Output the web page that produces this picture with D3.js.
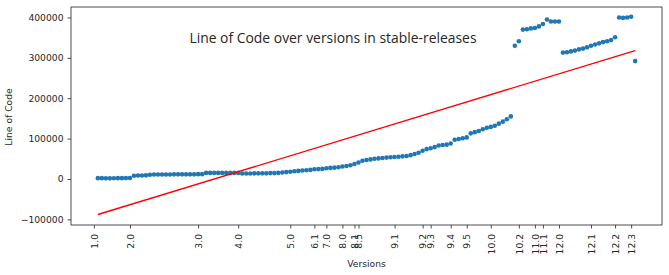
<!DOCTYPE html>
<html>
<head>
<meta charset="utf-8">
<script src="https://cdn.jsdelivr.net/npm/d3@7"></script>
<style>
    body { margin: 0; background: #fff; }
    text { font-family: "DejaVu Sans", sans-serif; fill: #262626; }
</style>
</head>
<body>
<div id="loc_chart"></div>
<script>
// lines of code for every release, in release order (x = release index)
let locValues = [
    2000, 2000, 1500, 1500, 1800, 2000, 2000, 2200, 2500,
    8000, 8500, 8500, 9000,
    10500, 11000, 11000, 11000, 11000, 11000, 11500, 11500, 11500, 11500, 11500, 11500, 12000, 12000,
    15000, 15000, 15000, 15000, 15000, 15000, 15000, 15000, 15000,
    13500, 13500, 13500, 14000, 14000, 14000, 14000, 14500, 14500, 15000, 16000, 17000,
    18000, 19000, 20000, 21000, 21500, 22500,
    24000, 24500, 25000,
    26500, 27500, 28000, 29000,
    31000, 32000, 34000, 37000,
    41000, 45000,
    47000, 48500, 50000, 51000, 52000, 53000, 54000, 54500, 55000, 56000, 57000, 59000, 62000, 65000,
    70000, 74000, 76000, 79000, 83000, 84000, 85000, 88000,
    97000, 99000, 101000, 103000,
    113000, 116000, 119000, 123000, 127000, 129000, 132000, 137000, 142000, 148000, 155000,
    330000, 341000,
    370000, 371000, 373000, 374000, 378000, 384000, 395000,
    390000, 390000, 390000,
    313000, 314000, 316000, 318000, 321000, 323000, 326000, 330000, 333000, 336000, 339000, 341000, 344000, 351000,
    400000, 399000, 400000, 402000,
    292000
]

// version tick labels and the release index they sit on
let tickLabels = ['1.0', '2.0', '3.0', '4.0', '5.0', '6.1', '7.0', '8.0', '8.1', '8.5',
    '9.1', '9.2', '9.3', '9.4', '9.5', '10.0', '10.2', '11.0', '11.1', '12.0', '12.1', '12.2', '12.3']
let tickIndex = [-1, 8, 25, 35, 48, 54, 57, 61, 64, 65,
    74, 81, 83, 88, 92, 98, 105, 109, 111, 115, 123, 129, 133]

// fitted trend line, value at first and last release
let trendValues = [-88000, 318000]

let yTicks = [-100000, 0, 100000, 200000, 300000, 400000]

let width = 669, height = 275
let margin = {top: 7, right: 7, bottom: 50, left: 71}

let svg = d3.select('#loc_chart').append('svg')
    .attr('width', width)
    .attr('height', height)

let n = locValues.length
let pad = (n - 1) * 0.05

let xScale = d3.scaleLinear()
    .domain([-pad, n - 1 + pad])
    .range([margin.left, width - margin.right])
let yScale = d3.scaleLinear()
    .domain([-114000, 426000])
    .range([height - margin.bottom, margin.top])

// axes
let xAxis = d3.axisBottom(xScale)
    .tickValues(tickIndex)
    .tickFormat((d, i) => tickLabels[i])
    .tickSizeOuter(0)
    .tickSize(3.5)
    .tickPadding(3.5)
let yAxis = d3.axisLeft(yScale)
    .tickValues(yTicks)
    .tickFormat(d => d < 0 ? '\u2212' + Math.abs(d) : d)
    .tickSizeOuter(0)
    .tickSize(3.5)
    .tickPadding(4)

let gx = svg.append('g').attr('id', 'x_axis')
    .attr('transform', 'translate(0,' + (height - margin.bottom) + ')')
    .call(xAxis)
gx.select('.domain').remove()
gx.selectAll('.tick line').attr('stroke', '#222').attr('stroke-width', 0.8)
gx.selectAll('.tick text')
    .attr('transform', 'rotate(-90)')
    .attr('x', -9)
    .attr('y', 0)
    .attr('dy', '0.35em')
    .style('text-anchor', 'end')
    .style('font-size', '9.2px')

let gy = svg.append('g').attr('id', 'y_axis')
    .attr('transform', 'translate(' + margin.left + ',0)')
    .call(yAxis)
gy.select('.domain').remove()
gy.selectAll('.tick line').attr('stroke', '#222').attr('stroke-width', 0.8)
gy.selectAll('.tick text').style('font-size', '9.2px')

// axes frame
svg.append('rect')
    .attr('x', margin.left)
    .attr('y', margin.top)
    .attr('width', width - margin.right - margin.left)
    .attr('height', height - margin.bottom - margin.top)
    .attr('fill', 'none')
    .attr('stroke', '#222')
    .attr('stroke-width', 0.8)

// data points
svg.append('g').attr('id', 'loc_points')
    .selectAll('circle')
    .data(locValues)
    .enter().append('circle')
    .attr('cx', (d, i) => xScale(i))
    .attr('cy', d => yScale(d))
    .attr('r', 2.3)
    .attr('fill', '#1f77b4')

// trend line
svg.append('line')
    .attr('x1', xScale(0))
    .attr('y1', yScale(trendValues[0]))
    .attr('x2', xScale(n - 1))
    .attr('y2', yScale(trendValues[1]))
    .attr('stroke', 'red')
    .attr('stroke-width', 1.4)

// labels
svg.append('text')
    .text('Line of Code over versions in stable-releases')
    .attr('x', 333)
    .attr('y', 43)
    .style('text-anchor', 'middle')
    .style('font-family', '"Open Sans", sans-serif')
    .style('font-size', '13.9px')

svg.append('text')
    .text('Versions')
    .attr('x', (margin.left + width - margin.right) / 2)
    .attr('y', 267)
    .style('text-anchor', 'middle')
    .style('font-size', '9.2px')

svg.append('text')
    .text('Line of Code')
    .attr('transform', 'translate(12,' + 117 + ') rotate(-90)')
    .style('text-anchor', 'middle')
    .style('font-size', '9.2px')
</script>
</body>
</html>
